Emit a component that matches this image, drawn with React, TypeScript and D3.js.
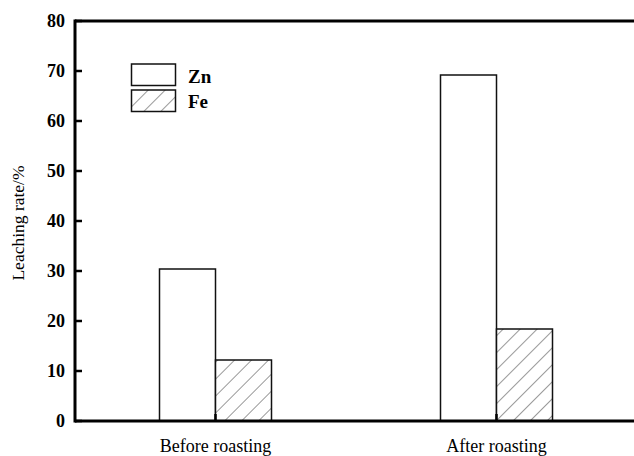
import React from "react";
import * as d3 from "d3";

const categories = ["Before roasting", "After roasting"];
const seriesNames = ["Zn", "Fe"];
const znValues = [30.4, 69.2];
const feValues = [12.2, 18.4];
const yTicks = [0, 10, 20, 30, 40, 50, 60, 70, 80];

const W = 634;
const H = 456;
const left = 75;
const top = 21;
const bottom = 421;
const right = 637;
const font = "'Liberation Serif', 'Times New Roman', serif";

export default function App() {
  const x = d3.scaleBand<string>().domain(categories).range([left, right]);
  const y = d3.scaleLinear().domain([0, 80]).range([bottom, top]);
  const barW = 56;
  const series = [znValues, feValues];

  return (
    <svg width={W} height={H} style={{ position: "absolute", left: 0, top: 0, background: "#fff" }}>
      <defs>
        <pattern id="hatch" patternUnits="userSpaceOnUse" width="12" height="12" patternTransform="rotate(45)">
          <rect width="12" height="12" fill="#fff" />
          <line x1="0" y1="0" x2="0" y2="12" stroke="#333" strokeWidth="1" />
        </pattern>
      </defs>
      {/* bars */}
      {categories.map((c, i) => {
        const cx = (x(c) as number) + x.bandwidth() / 2;
        return series.map((vals, s) => (
          <rect
            key={c + s}
            x={cx - barW + s * barW}
            y={y(vals[i])}
            width={barW}
            height={bottom - y(vals[i])}
            fill={s === 0 ? "#fff" : "url(#hatch)"}
            stroke="#111"
            strokeWidth={1.5}
          />
        ));
      })}
      {/* x ticks */}
      {categories.map((c) => {
        const cx = (x(c) as number) + x.bandwidth() / 2;
        return <line key={"xt" + c} x1={cx} x2={cx} y1={bottom} y2={bottom - 7} stroke="#000" strokeWidth={2.5} />;
      })}
      {/* axes frame */}
      <line x1={left} x2={W + 5} y1={top} y2={top} stroke="#000" strokeWidth={3} />
      <line x1={left} x2={W + 5} y1={bottom} y2={bottom} stroke="#000" strokeWidth={3} />
      <line x1={left} x2={left} y1={top - 1.5} y2={bottom + 1.5} stroke="#000" strokeWidth={3} />
      {/* y ticks */}
      {yTicks.map((t) => (
        <g key={"yt" + t}>
          <line x1={left} x2={left + 7} y1={y(t)} y2={y(t)} stroke="#000" strokeWidth={2.5} />
          <text
            x={65}
            y={y(t)}
            dy="0.35em"
            textAnchor="end"
            fontFamily={font}
            fontWeight="bold"
            fontSize={18}
            fill="#000"
          >
            {t}
          </text>
        </g>
      ))}
      {/* x labels */}
      {categories.map((c) => {
        const cx = (x(c) as number) + x.bandwidth() / 2;
        return (
          <text key={"xl" + c} x={cx} y={452} textAnchor="middle" fontFamily={font} fontSize={18} fill="#000">
            {c}
          </text>
        );
      })}
      {/* y label */}
      <text
        transform={`translate(24, 223) rotate(-90)`}
        textAnchor="middle"
        fontFamily={font}
        fontSize={17.5}
        fill="#000"
      >
        Leaching rate/%
      </text>
      {/* legend */}
      {seriesNames.map((n, i) => (
        <g key={"lg" + n}>
          <rect
            x={131.5}
            y={64 + i * 26}
            width={44}
            height={21.5}
            fill={i === 0 ? "#fff" : "url(#hatch)"}
            stroke="#111"
            strokeWidth={1.5}
          />
          <text
            x={188}
            y={76 + i * 25}
            dy="0.35em"
            fontFamily={font}
            fontWeight="bold"
            fontSize={19}
            fill="#000"
          >
            {n}
          </text>
        </g>
      ))}
    </svg>
  );
}
